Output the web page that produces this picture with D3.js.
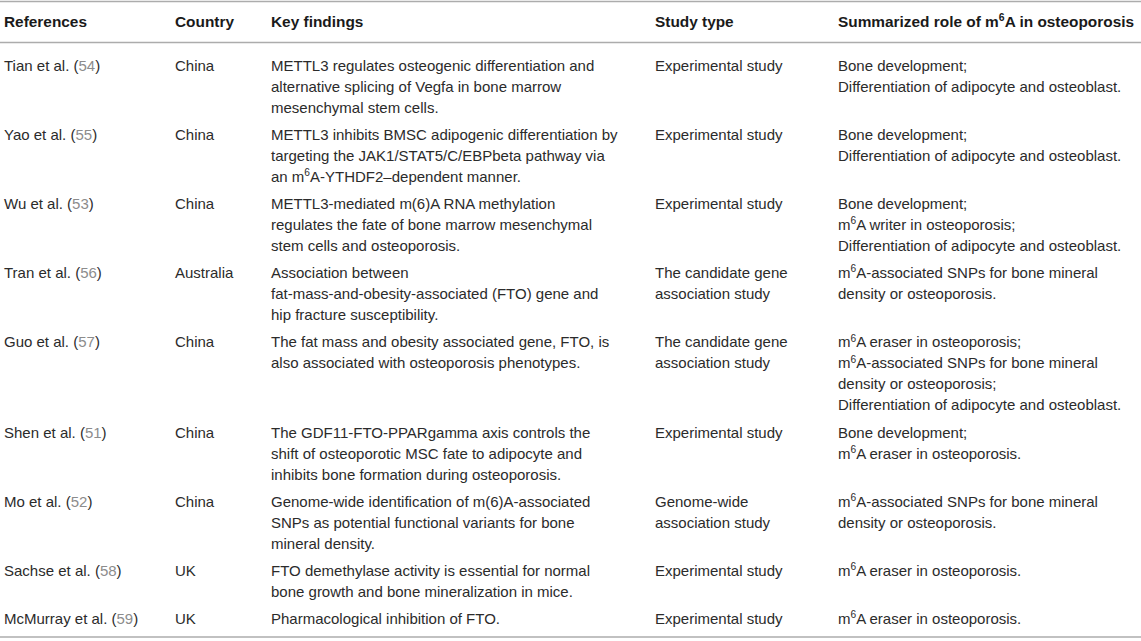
<!DOCTYPE html>
<html>
<head>
<meta charset="utf-8">
<script src="https://cdn.jsdelivr.net/npm/d3@7"></script>
<style>
  body { margin: 0; background: #fff; }
  svg { display: block; font-family: "Liberation Sans", Arial, Helvetica, sans-serif; }
</style>
</head>
<body>
<script>
// table content, one array per column ("^6" marks a superscript 6)
const headers = ['References', 'Country', 'Key findings', 'Study type', 'Summarized role of m^6A in osteoporosis'];

const refAuthors = ['Tian et al.', 'Yao et al.', 'Wu et al.', 'Tran et al.', 'Guo et al.',
    'Shen et al.', 'Mo et al.', 'Sachse et al.', 'McMurray et al.'];
const refNumbers = ['54', '55', '53', '56', '57', '51', '52', '58', '59'];

const countries = ['China', 'China', 'China', 'Australia', 'China', 'China', 'China', 'UK', 'UK'];

const findings = [
    ['METTL3 regulates osteogenic differentiation and', 'alternative splicing of Vegfa in bone marrow', 'mesenchymal stem cells.'],
    ['METTL3 inhibits BMSC adipogenic differentiation by', 'targeting the JAK1/STAT5/C/EBPbeta pathway via', 'an m^6A-YTHDF2\u2013dependent manner.'],
    ['METTL3-mediated m(6)A RNA methylation', 'regulates the fate of bone marrow mesenchymal', 'stem cells and osteoporosis.'],
    ['Association between', 'fat-mass-and-obesity-associated (FTO) gene and', 'hip fracture susceptibility.'],
    ['The fat mass and obesity associated gene, FTO, is', 'also associated with osteoporosis phenotypes.'],
    ['The GDF11-FTO-PPARgamma axis controls the', 'shift of osteoporotic MSC fate to adipocyte and', 'inhibits bone formation during osteoporosis.'],
    ['Genome-wide identification of m(6)A-associated', 'SNPs as potential functional variants for bone', 'mineral density.'],
    ['FTO demethylase activity is essential for normal', 'bone growth and bone mineralization in mice.'],
    ['Pharmacological inhibition of FTO.']
];

const studyTypes = [
    ['Experimental study'],
    ['Experimental study'],
    ['Experimental study'],
    ['The candidate gene', 'association study'],
    ['The candidate gene', 'association study'],
    ['Experimental study'],
    ['Genome-wide', 'association study'],
    ['Experimental study'],
    ['Experimental study']
];

const roles = [
    ['Bone development;', 'Differentiation of adipocyte and osteoblast.'],
    ['Bone development;', 'Differentiation of adipocyte and osteoblast.'],
    ['Bone development;', 'm^6A writer in osteoporosis;', 'Differentiation of adipocyte and osteoblast.'],
    ['m^6A-associated SNPs for bone mineral', 'density or osteoporosis.'],
    ['m^6A eraser in osteoporosis;', 'm^6A-associated SNPs for bone mineral', 'density or osteoporosis;', 'Differentiation of adipocyte and osteoblast.'],
    ['Bone development;', 'm^6A eraser in osteoporosis.'],
    ['m^6A-associated SNPs for bone mineral', 'density or osteoporosis.'],
    ['m^6A eraser in osteoporosis.'],
    ['m^6A eraser in osteoporosis.']
];

const columns = ['ref', 'country', 'finding', 'study', 'role'];

// split "m^6A" style strings into pieces and write them as tspans
function writeRich(textSel, str, size) {
    const parts = str.split(/(\^6)/).filter(p => p.length);
    const up = size * 0.38;
    let back = 0;
    parts.forEach(p => {
        if (p === '^6') {
            textSel.append('tspan')
                .attr('dy', -up)
                .attr('font-size', size * 0.68)
                .text('6');
            back = up;
        } else {
            const ts = textSel.append('tspan').text(p);
            if (back) { ts.attr('dy', back); back = 0; }
        }
    });
}

function renderTable() {
    const width = 1141;
    const height = 641;
    const fontSize = 15;
    const headSize = 15.4;
    const lineH = 21;
    const rowGap = 6.2;     // extra space between rows, px

    const svg = d3.select('body').append('svg')
        .attr('width', width)
        .attr('height', height);

    // column x positions
    const scaleX = d3.scaleOrdinal()
        .domain(columns)
        .range([4, 175, 271, 655, 838]);

    // rows: lines per row, then cumulative "units" (line + gap)
    const nRows = refAuthors.length;
    const rowLines = d3.range(nRows).map(i =>
        Math.max(1, findings[i].length, studyTypes[i].length, roles[i].length));
    const gapUnits = rowGap / lineH;
    const rowStart = [];
    let acc = 0;
    rowLines.forEach((n, i) => { rowStart.push(acc); acc += n + gapUnits; });

    // unit -> baseline y
    const firstBase = 70.5;
    const scaleY = d3.scaleLinear()
        .domain([0, 1])
        .range([firstBase, firstBase + lineH]);

    // rules
    const rules = [1.5, 42.5, 637];
    svg.selectAll('line.rule')
        .data(rules)
        .enter()
        .append('line')
        .attr('class', 'rule')
        .attr('x1', 0)
        .attr('x2', width)
        .attr('y1', d => d)
        .attr('y2', d => d)
        .attr('stroke', '#acacac')
        .attr('stroke-width', 1.6);

    // header
    svg.selectAll('text.head')
        .data(headers)
        .enter()
        .append('text')
        .attr('class', 'head')
        .attr('x', (d, i) => scaleX(columns[i]))
        .attr('y', 26.5)
        .attr('font-size', headSize)
        .attr('font-weight', 'bold')
        .attr('fill', '#1a1a1a')
        .each(function (d) { writeRich(d3.select(this), d, headSize); });

    // body cells
    const cells = [];
    d3.range(nRows).forEach(i => {
        cells.push({ col: 'ref', row: i, line: 0, text: refAuthors[i], num: refNumbers[i] });
        cells.push({ col: 'country', row: i, line: 0, text: countries[i] });
        findings[i].forEach((t, k) => cells.push({ col: 'finding', row: i, line: k, text: t }));
        studyTypes[i].forEach((t, k) => cells.push({ col: 'study', row: i, line: k, text: t }));
        roles[i].forEach((t, k) => cells.push({ col: 'role', row: i, line: k, text: t }));
    });

    svg.selectAll('text.cell')
        .data(cells)
        .enter()
        .append('text')
        .attr('class', 'cell')
        .attr('x', d => scaleX(d.col))
        .attr('y', d => scaleY(rowStart[d.row] + d.line))
        .attr('font-size', fontSize)
        .attr('fill', '#2b2b2b')
        .each(function (d) {
            const t = d3.select(this);
            writeRich(t, d.text, fontSize);
            if (d.num) {
                t.append('tspan').text(' (');
                t.append('tspan').attr('fill', '#8c8c8c').text(d.num);
                t.append('tspan').text(')');
            }
        });
}

window.addEventListener('load', function () {
    requestAnimationFrame(renderTable);
});
</script>
</body>
</html>
